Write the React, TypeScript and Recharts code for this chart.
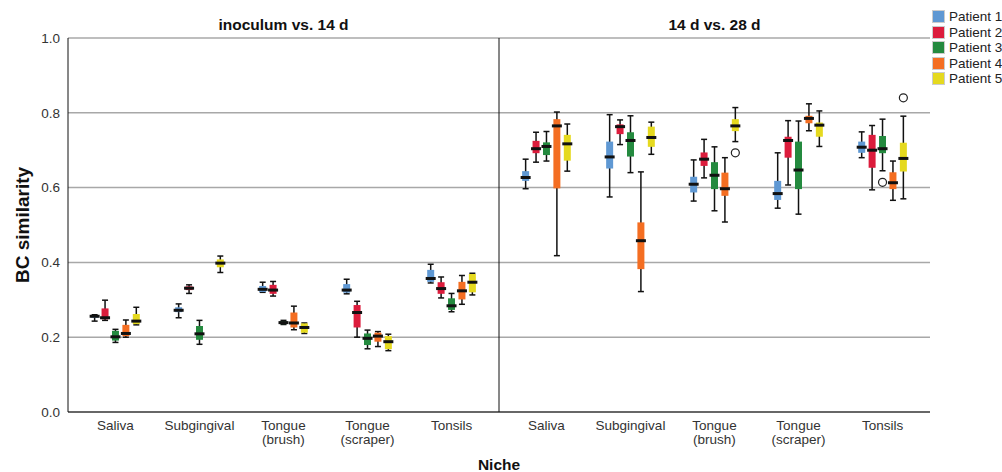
import React from 'react';
import {
  ComposedChart, Scatter, ErrorBar, XAxis, YAxis, CartesianGrid, ReferenceLine, ReferenceArea,
} from 'recharts';

// niche labels, one per group (left panel then right panel)
const niches = [
  'Saliva', 'Subgingival', 'Tongue\n(brush)', 'Tongue\n(scraper)', 'Tonsils',
  'Saliva', 'Subgingival', 'Tongue\n(brush)', 'Tongue\n(scraper)', 'Tonsils',
];
const groupPos = [0, 1, 2, 3, 4, 5.13, 6.13, 7.13, 8.13, 9.13];
const panelTitles = ['inoculum vs. 14 d', '14 d vs. 28 d'];
const patients = ['Patient 1', 'Patient 2', 'Patient 3', 'Patient 4', 'Patient 5'];
const colors = ['#5f98d3', '#dc1c3c', '#248a3f', '#f46e22', '#e5d91f'];
const yTicks = [0, 0.2, 0.4, 0.6, 0.8, 1.0];

// [min, q1, median, q3, max] per niche
type Box = [number, number, number, number, number] | null;
const patient1: Box[] = [
  [0.243, 0.252, 0.256, 0.258, 0.26],
  [0.252, 0.267, 0.272, 0.28, 0.289],
  [0.32, 0.321, 0.328, 0.337, 0.347],
  [0.316, 0.319, 0.326, 0.342, 0.355],
  [0.345, 0.348, 0.357, 0.38, 0.395],
  [0.597, 0.618, 0.627, 0.644, 0.676],
  [0.575, 0.651, 0.682, 0.723, 0.795],
  [0.564, 0.587, 0.609, 0.629, 0.674],
  [0.545, 0.567, 0.584, 0.618, 0.693],
  [0.68, 0.693, 0.708, 0.723, 0.749],
];
const patient2: Box[] = [
  [0.245, 0.248, 0.252, 0.277, 0.299],
  [0.317, 0.326, 0.331, 0.336, 0.34],
  [0.31, 0.316, 0.326, 0.34, 0.349],
  [0.2, 0.226, 0.266, 0.286, 0.296],
  [0.305, 0.316, 0.33, 0.347, 0.361],
  [0.668, 0.692, 0.704, 0.725, 0.748],
  [0.715, 0.743, 0.763, 0.769, 0.781],
  [0.626, 0.658, 0.676, 0.694, 0.729],
  [0.607, 0.68, 0.726, 0.736, 0.779],
  [0.594, 0.653, 0.7, 0.741, 0.766],
];
const patient3: Box[] = [
  [0.186, 0.191, 0.201, 0.217, 0.221],
  [0.181, 0.193, 0.209, 0.23, 0.245],
  [0.234, 0.235, 0.239, 0.243, 0.245],
  [0.169, 0.179, 0.197, 0.21, 0.219],
  [0.268, 0.273, 0.284, 0.304, 0.317],
  [0.671, 0.687, 0.71, 0.721, 0.75],
  [0.64, 0.683, 0.726, 0.748, 0.792],
  [0.538, 0.596, 0.633, 0.668, 0.709],
  [0.529, 0.596, 0.647, 0.723, 0.778],
  [0.645, 0.692, 0.704, 0.738, 0.783],
];
const patient4: Box[] = [
  [0.2, 0.203, 0.21, 0.233, 0.246],
  null,
  [0.22, 0.226, 0.238, 0.266, 0.283],
  [0.175, 0.188, 0.203, 0.212, 0.215],
  [0.288, 0.301, 0.324, 0.348, 0.365],
  [0.418, 0.598, 0.765, 0.783, 0.802],
  [0.322, 0.382, 0.458, 0.507, 0.642],
  [0.508, 0.578, 0.597, 0.64, 0.68],
  [0.752, 0.772, 0.785, 0.792, 0.824],
  [0.566, 0.596, 0.613, 0.641, 0.671],
];
const patient5: Box[] = [
  [0.233, 0.235, 0.243, 0.262, 0.28],
  [0.373, 0.387, 0.398, 0.408, 0.417],
  [0.21, 0.212, 0.226, 0.237, 0.238],
  [0.164, 0.168, 0.188, 0.203, 0.208],
  [0.313, 0.32, 0.347, 0.369, 0.371],
  [0.644, 0.672, 0.717, 0.741, 0.77],
  [0.689, 0.709, 0.734, 0.763, 0.775],
  [0.723, 0.751, 0.765, 0.783, 0.814],
  [0.71, 0.736, 0.767, 0.774, 0.805],
  [0.57, 0.643, 0.678, 0.72, 0.791],
];
const boxes = [patient1, patient2, patient3, patient4, patient5];

// outliers: [niche index, patient index, value]
const outliers: [number, number, number][] = [
  [7, 4, 0.693],
  [9, 2, 0.614],
  [9, 4, 0.84],
];

const patientOffset = 0.124;
const xOf = (niche: number, p: number) => groupPos[niche] + (p - 2) * patientOffset;

const seriesData = boxes.map((rows, p) =>
  rows
    .map((b, i) => {
      if (!b) return null;
      const [min, q1, med, q3, max] = b;
      return { x: xOf(i, p), med, whisker: [med - min, max - med], box: [med - q1, q3 - med] };
    })
    .filter(Boolean)
);
const outlierData = outliers.map(([n, p, v]) => ({ x: xOf(n, p), v }));

const font = '"Liberation Sans", Arial, sans-serif';

const MedianMark = (props: any) => {
  const { cx, cy } = props;
  return <rect x={cx - 5} y={cy - 1.5} width={10} height={3} fill="#111" />;
};

const OutlierMark = (props: any) => {
  const { cx, cy } = props;
  return <circle cx={cx} cy={cy} r={4} fill="#fff" stroke="#222" strokeWidth={1.2} />;
};

const NicheTick = (props: any) => {
  const { x, y, payload } = props;
  const idx = groupPos.indexOf(payload.value);
  const lines = (niches[idx] || '').split('\n');
  return (
    <text x={x} y={y} textAnchor="middle" fill="#333" fontSize={13.5} fontFamily={font}>
      {lines.map((l, i) => (
        <tspan key={i} x={x} dy={i === 0 ? 10 : 14}>{l}</tspan>
      ))}
    </text>
  );
};

export default function App() {
  return (
    <div style={{ position: 'absolute', left: 0, top: 0, width: 1002, height: 472, background: '#fff', fontFamily: font }}>
      <ComposedChart width={1002} height={472} margin={{ top: 38, right: 72, bottom: 0, left: 0 }}>
        <CartesianGrid vertical={false} stroke="#a8a8a8" strokeWidth={1.5} />
        <XAxis
          type="number"
          dataKey="x"
          domain={[-0.565, 9.695]}
          ticks={groupPos}
          interval={0}
          allowDataOverflow
          tickLine={false}
          axisLine={{ stroke: '#111' }}
          tick={<NicheTick />}
          height={60}
          label={{ value: 'Niche', position: 'insideBottom', offset: 2, fontSize: 15.5, fontWeight: 'bold', fill: '#111', fontFamily: font }}
        />
        <YAxis
          type="number"
          domain={[0, 1]}
          ticks={yTicks}
          allowDataOverflow
          tickLine={false}
          axisLine={{ stroke: '#111' }}
          width={68}
          tickFormatter={(v: number) => v.toFixed(1)}
          tick={{ fontSize: 13.5, fill: '#333', fontFamily: font }}
          label={{ value: 'BC similarity', angle: -90, position: 'center', dx: -12, fontSize: 19, fontWeight: 'bold', fill: '#111', fontFamily: font }}
        />
        <ReferenceArea
          x1={-0.565}
          x2={4.565}
          y1={0}
          y2={1}
          fill="none"
          fillOpacity={0}
          label={{ value: panelTitles[0], position: 'top', offset: 8, fontSize: 15.5, fontWeight: 'bold', fill: '#111', fontFamily: font }}
        />
        <ReferenceArea
          x1={4.565}
          x2={9.695}
          y1={0}
          y2={1}
          fill="none"
          fillOpacity={0}
          label={{ value: panelTitles[1], position: 'top', offset: 8, fontSize: 15.5, fontWeight: 'bold', fill: '#111', fontFamily: font }}
        />
        <ReferenceLine x={4.565} stroke="#111" strokeWidth={1} />
        {seriesData.map((d, p) => (
          <Scatter key={p} name={patients[p]} data={d as any[]} dataKey="med" shape={<MedianMark />} isAnimationActive={false}>
            <ErrorBar dataKey="whisker" direction="y" width={3} stroke="#111" strokeWidth={1.5} />
            <ErrorBar dataKey="box" direction="y" width={0} stroke={colors[p]} strokeWidth={7} />
          </Scatter>
        ))}
        <Scatter data={outlierData} dataKey="v" shape={<OutlierMark />} isAnimationActive={false} />
      </ComposedChart>
      <div style={{ position: 'absolute', left: 932, top: 9, fontSize: 13.5, color: '#222', lineHeight: '15.5px' }}>
        {patients.map((name, i) => (
          <div key={name} style={{ display: 'flex', alignItems: 'center', whiteSpace: 'nowrap' }}>
            <span style={{ display: 'inline-block', width: 13, height: 13, background: colors[i], border: '1px solid #ccc', boxSizing: 'border-box', marginRight: 4 }} />
            {name}
          </div>
        ))}
      </div>
    </div>
  );
}
